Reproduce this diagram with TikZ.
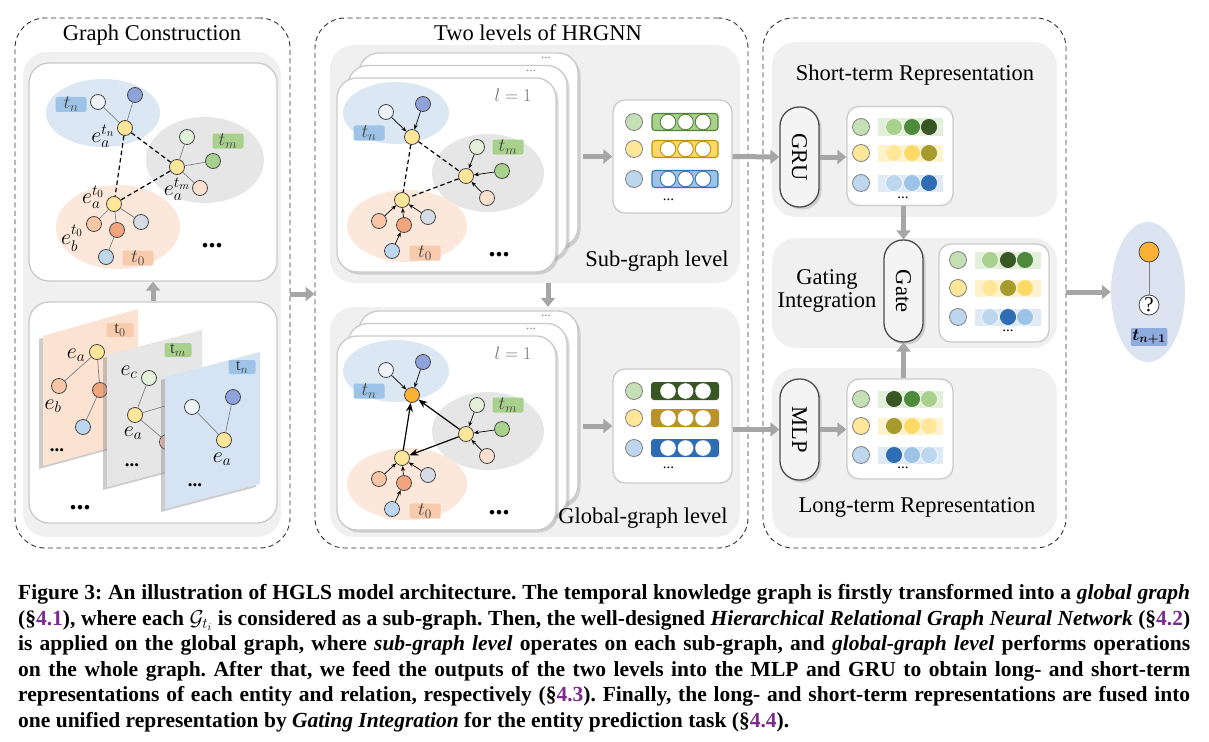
\RequirePackage{fix-cm}
\documentclass[tikz,border=0pt]{standalone}
\usepackage{amsmath,amssymb,bm}
\usepackage{graphicx}
\usepackage{fontspec}
\setmainfont{Liberation Serif}
\usepackage{xcolor}
\usepackage{tikz}
\usetikzlibrary{arrows.meta, positioning, calc, shadows, shapes.geometric}
\definecolor{hgpanel}{HTML}{F0F0F0}
\definecolor{hgborder}{HTML}{CACACA}
\definecolor{hgarrow}{HTML}{A6A6A6}
\definecolor{hgline}{HTML}{808080}
\definecolor{hgedge}{HTML}{474747}
\definecolor{hgpurple}{HTML}{7B2A8E}
\definecolor{hgeblue}{HTML}{DCE7F4}
\definecolor{hgegray}{HTML}{E6E6E6}
\definecolor{hgeorange}{HTML}{FCE8DA}
\definecolor{hgtblue}{HTML}{9DC3E6}
\definecolor{hgtgreen}{HTML}{A9D18E}
\definecolor{hgtorange}{HTML}{F8CBAD}
\definecolor{hgnext}{HTML}{8FAADC}
\definecolor{hgout}{HTML}{DCE4F2}
\definecolor{hgyellow}{HTML}{FFE699}
\definecolor{hgwhite}{HTML}{EEF3FA}
\definecolor{hgdblue}{HTML}{8EA3D9}
\definecolor{hglgreen}{HTML}{E2F0D9}
\definecolor{hggreen}{HTML}{A9D18E}
\definecolor{hgpink}{HTML}{FBE0D0}
\definecolor{hglorange}{HTML}{F8C6A6}
\definecolor{hgdorange}{HTML}{F2A57C}
\definecolor{hggblue}{HTML}{D6DCE5}
\definecolor{hgblue}{HTML}{BDD7EE}
\definecolor{hgorange}{HTML}{F9B233}
\definecolor{hgrgreen}{HTML}{C5E0B4}
\definecolor{hgsgreen}{HTML}{A9D18E}
\definecolor{hgsyellow}{HTML}{FFD966}
\definecolor{hgsblue}{HTML}{9DC3E6}
\definecolor{hgkgreen}{HTML}{548235}
\definecolor{hgkyellow}{HTML}{BF9000}
\definecolor{hgkblue}{HTML}{2E75B6}
\definecolor{hgxgreen}{HTML}{385723}
\definecolor{hgxyellow}{HTML}{B8922A}
\definecolor{hgxblue}{HTML}{2E6DB4}
\definecolor{hglg}{HTML}{A9D18E}
\definecolor{hgmg}{HTML}{4E8A3C}
\definecolor{hgdg}{HTML}{385723}
\definecolor{hgly}{HTML}{FFE699}
\definecolor{hgyy}{HTML}{FFD966}
\definecolor{hgol}{HTML}{A89B2D}
\definecolor{hglb}{HTML}{BDD7EE}
\definecolor{hgmb}{HTML}{9DC3E6}
\definecolor{hgdb}{HTML}{2E6DB4}
\definecolor{hgbgreen}{HTML}{E2F0D9}
\definecolor{hgbyellow}{HTML}{FFF2CC}
\definecolor{hgbblue}{HTML}{DEEBF7}
\newcommand{\hgsec}[1]{(\S\textcolor{hgpurple}{#1})}
\frenchspacing

\begin{document}
\begin{tikzpicture}[x=1pt, y=-1pt,
    panel/.style={draw=black!80, line width=0.9pt, dash pattern=on 5pt off 3.5pt, rounded corners=30pt, inner sep=0pt},
    level/.style={fill=hgpanel, rounded corners=24pt, inner sep=0pt},
    card/.style={draw=hgborder, line width=1.3pt, fill=white, rounded corners=20pt, inner sep=0pt},
    shadowed/.style={drop shadow={opacity=0.3, shadow xshift=2.5pt, shadow yshift=-2.5pt}},
    ent/.style={circle, draw=hgedge, line width=0.8pt, minimum size=15pt, inner sep=0pt},
    tag/.style={rounded corners=2pt, minimum width=31pt, minimum height=15pt, inner sep=0pt, text=black!75, font=\fontsize{19}{19}\selectfont},
    ptag/.style={tag, minimum width=27pt, minimum height=14pt, font=\fontsize{17}{17}\selectfont},
    elabel/.style={inner sep=0pt, font=\fontsize{22}{22}\selectfont},
    title/.style={inner sep=0pt, font=\fontsize{22.5}{23}\selectfont},
    layer/.style={inner sep=0pt, text=black!55, font=\fontsize{18}{18}\selectfont},
    link/.style={draw=hgline, line width=0.7pt},
    cross/.style={line width=1.2pt, dash pattern=on 4.5pt off 3pt},
    msg/.style={-{Stealth[length=5pt, width=4pt]}, line width=0.7pt},
    flow/.style={-{Stealth[length=9pt, width=7pt]}, line width=1.2pt},
    garrow/.style={-{Triangle[length=9pt, width=14pt]}, line width=5pt, draw=hgarrow},
    capsule/.style={draw=black!70, line width=1.3pt, fill=hgpanel!70, rounded corners=19pt, minimum width=39pt, minimum height=100pt, inner sep=0pt, font=\fontsize{22.5}{23}\selectfont, shadowed},
    embbox/.style={draw=hgborder, line width=1.3pt, fill=white, rounded corners=12pt, inner sep=0pt},
    bigdots/.style={inner sep=0pt, font=\fontsize{28}{28}\selectfont\bfseries},
    smalldots/.style={inner sep=0pt, font=\fontsize{15}{15}\selectfont},
    pdots/.style={inner sep=0pt, font=\fontsize{19}{19}\selectfont\bfseries},
    tinydots/.style={inner sep=0pt, text=black!50, font=\fontsize{13}{13}\selectfont},
    capline/.style={anchor=base west, inner sep=0pt, font=\fontsize{21.5}{24}\selectfont\bfseries}
]
\useasboundingbox (0,0) rectangle (1209,741);
\fill[white] (0,0) rectangle (1209,741);

% panels
\node[panel, minimum width=275pt, minimum height=530pt] (gc) at (152.5,283) {};
\node[panel, minimum width=433pt, minimum height=530pt] (hr) at (531.5,283) {};
\node[panel, minimum width=303pt, minimum height=530pt] (rep) at (914.5,283) {};
\node[title] (gc-title) at (152,35) {Graph Construction};
\node[title] (hr-title) at (538,33) {Two levels of HRGNN};

% graph construction
\node[level, minimum width=258pt, minimum height=485pt] (gclvl) at (152,294.5) {};
\node[card, minimum width=248pt, minimum height=218pt] (gctop) at (153,172) {};
\node[card, minimum width=248pt, minimum height=221pt] (gcbot) at (153,412.5) {};
\draw[garrow] (gcbot.north) -- (gctop.south);

\fill[hgegray] (205,160) ellipse [x radius=59, y radius=43];
\fill[hgeorange] (118,227) ellipse [x radius=62, y radius=42];
\fill[hgeblue] (103,113) ellipse [x radius=57, y radius=34];
\node[tag, fill=hgtblue] (gc-ttn) at (71,104.5) {$t_n$};
\node[tag, fill=hgtgreen] (gc-ttm) at (228,141) {$t_m$};
\node[tag, fill=hgtorange] (gc-tt0) at (138,258) {$t_0$};
\node[ent, fill=hgwhite] (gc-nw) at (98,102) {};
\node[ent, fill=hgdblue] (gc-nb) at (135,95) {};
\node[ent, fill=hgyellow] (gc-an) at (125,128) {};
\node[ent, fill=hglgreen] (gc-ng) at (187,137) {};
\node[ent, fill=hggreen] (gc-nG) at (213,161) {};
\node[ent, fill=hgpink] (gc-np) at (200,188) {};
\node[ent, fill=hgyellow] (gc-am) at (177,167) {};
\node[ent, fill=hgyellow] (gc-a0) at (114,204) {};
\node[ent, fill=hglorange] (gc-nl) at (94,224) {};
\node[ent, fill=hgdorange] (gc-nd) at (117,230) {};
\node[ent, fill=hggblue] (gc-nq) at (141,222) {};
\node[ent, fill=hgblue] (gc-nu) at (106,257) {};
\foreach \p/\q in {nw/an, nb/an, ng/am, nG/am, np/am, nl/a0, nd/a0, nq/a0, nu/nd}
  \draw[link] (gc-\p) -- (gc-\q);
\foreach \p/\q in {an/a0, an/am, am/a0}
  \draw[cross] (gc-\p) -- (gc-\q);
\node[elabel] (gc-ean) at (103,136) {$e_a^{t_n}$};
\node[elabel] (gc-eam) at (177,189) {$e_a^{t_m}$};
\node[elabel] (gc-ea0) at (93,197) {$e_a^{t_0}$};
\node[elabel] (gc-eb0) at (72,238) {$e_b^{t_0}$};
\node[bigdots] (gc-more) at (212,246) {...};

% snapshots
\fill[hgeorange!80!hgtorange, drop shadow={opacity=0.4, shadow xshift=-4pt, shadow yshift=-3pt}] (43,336) -- (138,309) -- (138,440) -- (43,466) -- cycle;
\node[ptag, fill=hgtorange] (p0-t) at (120,330) {$\mathrm{t}_0$};
\node[ent, fill=hgyellow] (p0-a) at (97,352) {};
\node[ent, fill=hglorange] (p0-b) at (59,386) {};
\node[ent, fill=hgdorange] (p0-d) at (100,390) {};
\node[ent, fill=hgblue] (p0-u) at (83,427) {};
\foreach \p/\q in {a/b, a/d, d/u}
  \draw[link] (p0-\p) -- (p0-\q);
\node[elabel] (p0-ea) at (76,355) {$e_a$};
\node[elabel] (p0-eb) at (53,406) {$e_b$};
\node[pdots] (p0-more) at (57,450) {...};

\fill[hgegray, drop shadow={opacity=0.4, shadow xshift=-4pt, shadow yshift=-3pt}] (107,355) -- (202,330) -- (202,462) -- (107,487) -- cycle;
\node[ptag, fill=hgtgreen] (p1-t) at (178,350) {$\mathrm{t}_m$};
\coordinate (p1-x) at (185,400);
\node[ent, fill=hglgreen] (p1-c) at (149,378) {};
\node[ent, fill=hgpink!70!hgdorange] (p1-p) at (167,442) {};
\node[ent, fill=hgyellow] (p1-a) at (135,415) {};
\foreach \p/\q in {a/c, a/p, a/x}
  \draw[link] (p1-\p) -- (p1-\q);
\node[elabel] (p1-ec) at (129,372) {$e_c$};
\node[elabel] (p1-ea) at (133,433) {$e_a$};
\node[pdots] (p1-more) at (132,465) {...};

\fill[hgeblue!90!hgtblue, drop shadow={opacity=0.4, shadow xshift=-4pt, shadow yshift=-3pt}] (165,377) -- (260,352) -- (260,484) -- (165,509) -- cycle;
\node[ptag, fill=hgtblue] (p2-t) at (242,367) {$\mathrm{t}_n$};
\node[ent, fill=hgwhite] (p2-w) at (192,407) {};
\node[ent, fill=hgdblue] (p2-b) at (233,397) {};
\node[ent, fill=hgyellow] (p2-a) at (224,440) {};
\foreach \p/\q in {w/a, b/a}
  \draw[link] (p2-\p) -- (p2-\q);
\node[elabel] (p2-ea) at (222,459) {$e_a$};
\node[pdots] (p2-more) at (195,485) {...};
\node[bigdots] (gcbot-more) at (80,508) {...};

% two levels of HRGNN
\node[level, minimum width=410pt, minimum height=238pt] (sublvl) at (535,164) {};
\node[level, minimum width=410pt, minimum height=230pt] (globlvl) at (535,422) {};
\draw[garrow] ([xshift=13pt]sublvl.south) -- ([xshift=13pt]globlvl.north);

\foreach \lv/\dy/\hub in {s/0/hgyellow, g/258/hgorange}{
  \begin{scope}[yshift=-\dy pt]
    \node[card, shadowed, minimum width=219pt, minimum height=194pt] (\lv-c3) at (468.5,150) {};
    \node[card, shadowed, minimum width=219pt, minimum height=194pt] (\lv-c2) at (457.5,162.5) {};
    \node[card, shadowed, minimum width=219pt, minimum height=194pt] (\lv-c1) at (446.5,175) {};
    \node[tinydots] (\lv-d3) at (546,58) {...};
    \node[tinydots] (\lv-d2) at (531,71) {...};
    \node[layer] (\lv-l) at (513,95) {$l=1$};
    \fill[hgegray] (488,173) ellipse [x radius=56, y radius=39];
    \fill[hgeorange] (407,226) ellipse [x radius=60, y radius=36];
    \fill[hgeblue] (396,113) ellipse [x radius=53, y radius=31];
    \node[tag, fill=hgtblue] (\lv-ttn) at (369,133) {$t_n$};
    \node[tag, fill=hgtgreen] (\lv-ttm) at (508,147) {$t_m$};
    \node[tag, fill=hgtorange] (\lv-tt0) at (425,253) {$t_0$};
    \node[ent, fill=hgwhite] (\lv-nw) at (386,112) {};
    \node[ent, fill=hgdblue] (\lv-nb) at (423,104) {};
    \node[ent, fill=\hub] (\lv-an) at (412,137) {};
    \node[ent, fill=hglgreen] (\lv-ng) at (477,147) {};
    \node[ent, fill=hggreen] (\lv-nG) at (502,171) {};
    \node[ent, fill=hgpink] (\lv-np) at (487,198) {};
    \node[ent, fill=hgyellow] (\lv-am) at (466,176) {};
    \node[ent, fill=hgyellow] (\lv-a0) at (402,200) {};
    \node[ent, fill=hglorange] (\lv-nl) at (379,221) {};
    \node[ent, fill=hgdorange] (\lv-nd) at (404,225) {};
    \node[ent, fill=hggblue] (\lv-nq) at (428,217) {};
    \node[ent, fill=hgblue] (\lv-nu) at (392,251) {};
    \foreach \p/\q in {nw/an, nb/an, ng/am, nG/am, np/am, nl/a0, nd/a0, nq/a0, nu/nd}
      \draw[msg] (\lv-\p) -- (\lv-\q);
    \node[bigdots] (\lv-more) at (499,255) {...};
  \end{scope}
}
\foreach \p/\q in {an/a0, an/am, am/a0}
  \draw[cross] (s-\p) -- (s-\q);
\foreach \p/\q in {a0/an, am/an, am/a0}
  \draw[flow] (g-\p) -- (g-\q);
\node[title] (s-name) at (657,261) {Sub-graph level};
\node[title] (g-name) at (643,518) {Global-graph level};

\node[embbox, minimum width=119pt, minimum height=113pt] (s-emb) at (672.5,156.5) {};
\node[embbox, minimum width=119pt, minimum height=114pt] (g-emb) at (672.5,426) {};
\draw[garrow] ([xshift=4pt]s-c3.east |- s-emb.west) -- (s-emb.west);
\draw[garrow] ([xshift=4pt]g-c3.east |- g-emb.west) -- (g-emb.west);
\begin{scope}[shift={(s-emb.center)}]
  \foreach \y/\ec/\fc/\dc in {-34.5/hgrgreen/hgsgreen/hgkgreen, -7.5/hgyellow/hgsyellow/hgkyellow, 22.5/hgblue/hgsblue/hgkblue}{
    \draw[hgline, fill=\ec, line width=0.8pt] (-38.5,\y) circle [radius=8.5];
    \draw[draw=\dc, fill=\fc, line width=1.1pt, rounded corners=3pt] (-20.5,\y-8.5) rectangle (45.5,\y+8.5);
    \draw[draw=\dc, fill=white, line width=0.9pt] (-4.5,\y) circle [radius=7.8];
    \draw[draw=\dc, fill=white, line width=0.9pt] (13,\y) circle [radius=7.8];
    \draw[draw=\dc, fill=white, line width=0.9pt] (30.5,\y) circle [radius=7.8];
  }
\end{scope}
\node[smalldots] (s-embdots) at ([xshift=-4pt, yshift=-43pt]s-emb.center) {...};
\begin{scope}[shift={(g-emb.center)}]
  \foreach \y/\ec/\fc in {-35/hgrgreen/hgxgreen, -8/hgyellow/hgxyellow, 22/hgblue/hgxblue}{
    \draw[hgline, fill=\ec, line width=0.8pt] (-38.5,\y) circle [radius=8.5];
    \fill[fill=\fc, rounded corners=3pt] (-21.5,\y-9) rectangle (46.5,\y+9);
    \fill[white] (-4.5,\y) circle [radius=7.8];
    \fill[white] (13,\y) circle [radius=7.8];
    \fill[white] (30.5,\y) circle [radius=7.8];
  }
\end{scope}
\node[smalldots] (g-embdots) at ([xshift=-4pt, yshift=-42pt]g-emb.center) {...};

% representations
\node[level, minimum width=285pt, minimum height=175pt] (stlvl) at (914.5,129.5) {};
\node[level, minimum width=285pt, minimum height=110pt] (gatelvl) at (914.5,293) {};
\node[level, minimum width=285pt, minimum height=170pt] (ltlvl) at (914.5,453) {};
\node[title] (st-name) at (915,75) {Short-term Representation};
\node[title] (lt-name) at (917,507) {Long-term Representation};
\node[title, align=center] (gate-name) at (827,291) {Gating\\Integration};

\node[capsule] (gru) at (799.5,157) {\rotatebox{-90}{GRU}};
\node[capsule, minimum height=102pt] (gate) at (903.5,291) {\rotatebox{-90}{Gate}};
\node[capsule, minimum height=101pt] (mlp) at (799.5,429.5) {\rotatebox{-90}{MLP}};
\node[embbox, minimum width=106pt, minimum height=99pt] (st-emb) at (900,156) {};
\node[embbox, minimum width=110pt, minimum height=98pt] (gate-emb) at (994,293) {};
\node[embbox, minimum width=106pt, minimum height=100pt] (lt-emb) at (900,429) {};

\begin{scope}[shift={(st-emb.center)}]
  \foreach \y/\ec/\bg/\ca/\cb/\cc in {-29/hgrgreen/hgbgreen/hglg/hgmg/hgdg, -3/hgyellow/hgbyellow/hgly/hgyy/hgol, 27/hgblue/hgbblue/hglb/hgmb/hgdb}{
    \fill[fill=\bg] (-22,\y-8.5) rectangle (43,\y+8.5);
    \draw[hgline, fill=\ec, line width=0.8pt] (-39,\y) circle [radius=8.5];
    \filldraw[fill=\ca, draw=white, line width=0.6pt] (-6,\y) circle [radius=8.5];
    \filldraw[fill=\cb, draw=white, line width=0.6pt] (12,\y) circle [radius=8.5];
    \filldraw[fill=\cc, draw=white, line width=0.6pt] (29,\y) circle [radius=8.5];
  }
\end{scope}
\node[smalldots] (st-dots) at ([xshift=3pt, yshift=-42pt]st-emb.center) {...};
\begin{scope}[shift={(gate-emb.center)}]
  \foreach \y/\ec/\bg/\ca/\cb/\cc in {-33/hgrgreen/hgbgreen/hglg/hgdg/hgmg, -5/hgyellow/hgbyellow/hgly/hgol/hgyy, 24/hgblue/hgbblue/hglb/hgdb/hgmb}{
    \fill[fill=\bg] (-19,\y-8.5) rectangle (47,\y+8.5);
    \draw[hgline, fill=\ec, line width=0.8pt] (-36,\y) circle [radius=8.5];
    \filldraw[fill=\ca, draw=white, line width=0.6pt] (-4,\y) circle [radius=8.5];
    \filldraw[fill=\cb, draw=white, line width=0.6pt] (14,\y) circle [radius=8.5];
    \filldraw[fill=\cc, draw=white, line width=0.6pt] (31,\y) circle [radius=8.5];
  }
\end{scope}
\node[smalldots] (gate-dots) at ([xshift=14pt, yshift=-38pt]gate-emb.center) {...};
\begin{scope}[shift={(lt-emb.center)}]
  \foreach \y/\ec/\bg/\ca/\cb/\cc in {-30/hgrgreen/hgbgreen/hgdg/hgmg/hglg, -3/hgyellow/hgbyellow/hgol/hgyy/hgly, 26/hgblue/hgbblue/hgdb/hgmb/hglb}{
    \fill[fill=\bg] (-22,\y-8.5) rectangle (43,\y+8.5);
    \draw[hgline, fill=\ec, line width=0.8pt] (-39,\y) circle [radius=8.5];
    \filldraw[fill=\ca, draw=white, line width=0.6pt] (-6,\y) circle [radius=8.5];
    \filldraw[fill=\cb, draw=white, line width=0.6pt] (12,\y) circle [radius=8.5];
    \filldraw[fill=\cc, draw=white, line width=0.6pt] (29,\y) circle [radius=8.5];
  }
\end{scope}
\node[smalldots] (lt-dots) at ([xshift=3pt, yshift=-39pt]lt-emb.center) {...};

\draw[garrow] (s-emb.east) -- (gru.west);
\draw[garrow] (g-emb.east |- mlp.west) -- (mlp.west);
\draw[garrow] (gru.east) -- (st-emb.west |- gru.east);
\draw[garrow] (mlp.east) -- (lt-emb.west |- mlp.east);
\draw[garrow] (st-emb.south -| gate.north) -- (gate.north);
\draw[garrow] (lt-emb.north -| gate.south) -- (gate.south);
\draw[garrow] ([yshift=-11pt]gc.east) -- ([yshift=-11pt]hr.west);

% prediction
\node[ellipse, fill=hgout, minimum width=74pt, minimum height=140pt, inner sep=0pt] (out) at (1148,292) {};
\node[ent, fill=hgorange, minimum size=20pt] (qa) at (1149,252) {};
\node[ent, fill=white, minimum size=20pt, font=\fontsize{21}{21}\selectfont] (qq) at (1149,305) {?};
\draw[hgline, line width=0.8pt] (qa) -- (qq);
\node[tag, fill=hgnext, text=black, minimum width=31pt, minimum height=17pt, inner sep=1.5pt, font=\fontsize{17}{17}\selectfont] (qt) at (1149,337) {$\bm{t_{n+1}}$};
\draw[garrow] (rep.east |- out.west) -- (out.west);

% caption
\node[capline] (cap1) at (18,599) {\makebox[1172pt][s]{Figure 3: An illustration of HGLS model architecture. The temporal knowledge graph is firstly transformed into a \textit{global graph}}};
\node[capline] (cap2) at (18,625) {\makebox[1172pt][s]{\hgsec{4.1}, where each $\mathcal{G}_{t_i}$ is considered as a sub-graph. Then, the well-designed \textit{Hierarchical Relational Graph Neural Network} \hgsec{4.2}}};
\node[capline] (cap3) at (18,650) {\makebox[1172pt][s]{is applied on the global graph, where \textit{sub-graph level} operates on each sub-graph, and \textit{global-graph level} performs operations}};
\node[capline] (cap4) at (18,676) {\makebox[1172pt][s]{on the whole graph. After that, we feed the outputs of the two levels into the MLP and GRU to obtain long- and short-term}};
\node[capline] (cap5) at (18,701) {\makebox[1172pt][s]{representations of each entity and relation, respectively \hgsec{4.3}. Finally, the long- and short-term representations are fused into}};
\node[capline] (cap6) at (18,727) {one unified representation by \textit{Gating Integration} for the entity prediction task \hgsec{4.4}.};
\end{tikzpicture}
\end{document}
